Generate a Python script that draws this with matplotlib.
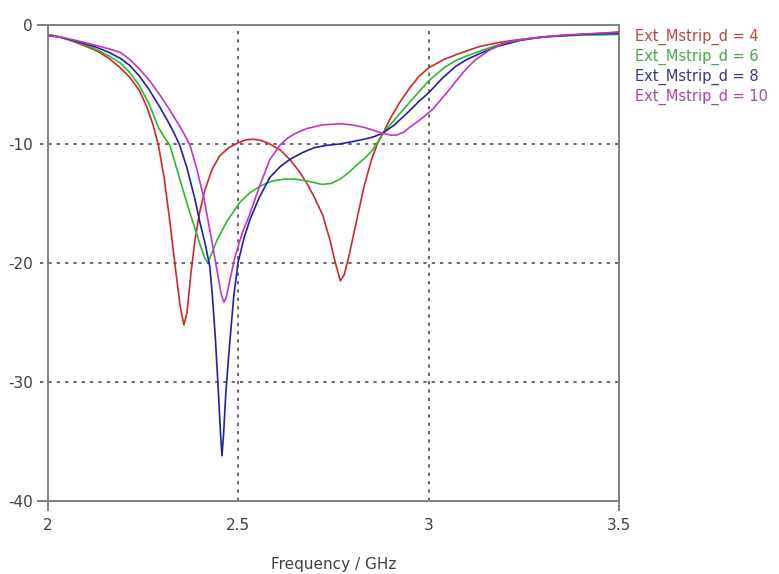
import matplotlib
import matplotlib.pyplot as plt

matplotlib.use('Agg')

# === data (frequency in GHz, S11 in dB) ===
f_d4 = [2.0, 2.03, 2.06, 2.1, 2.13, 2.16, 2.19, 2.215, 2.24, 2.26, 2.275, 2.29,
        2.305, 2.32, 2.335, 2.347, 2.357, 2.365, 2.375, 2.386, 2.398, 2.412, 2.43,
        2.451, 2.475, 2.50, 2.52, 2.54, 2.56, 2.58, 2.61, 2.635, 2.66, 2.68, 2.70,
        2.722, 2.74, 2.755, 2.768, 2.778, 2.79, 2.811, 2.83, 2.85, 2.865, 2.88,
        2.90, 2.924, 2.95, 2.975, 3.0, 3.04, 3.08, 3.134, 3.18, 3.22, 3.3, 3.4, 3.5]
s_d4 = [-0.8, -1.0, -1.3, -1.8, -2.2, -2.8, -3.6, -4.4, -5.5, -6.9, -8.3, -10.1,
        -12.8, -16.5, -20.5, -23.6, -25.2, -24.2, -21.0, -18.1, -15.8, -13.9, -12.2,
        -11.0, -10.3, -9.9, -9.65, -9.6, -9.7, -9.95, -10.5, -11.3, -12.3, -13.3, -14.5,
        -16.0, -18.0, -20.0, -21.5, -21.0, -19.5, -16.4, -13.6, -11.3, -10.0, -9.1,
        -7.8, -6.5, -5.3, -4.3, -3.6, -2.9, -2.4, -1.8, -1.5, -1.3, -1.0, -0.8, -0.6]

f_d6 = [2.0, 2.03, 2.06, 2.1, 2.13, 2.16, 2.19, 2.215, 2.24, 2.265, 2.29, 2.305,
        2.32, 2.345, 2.368, 2.385, 2.40, 2.412, 2.42, 2.43, 2.445, 2.47, 2.504, 2.53,
        2.56, 2.59, 2.62, 2.65, 2.68, 2.72, 2.745, 2.77, 2.79, 2.81, 2.835, 2.853,
        2.88, 2.92, 2.958, 3.0, 3.04, 3.07, 3.1, 3.134, 3.17, 3.2, 3.25, 3.3, 3.4, 3.5]
s_d6 = [-0.8, -1.0, -1.3, -1.7, -2.1, -2.6, -3.2, -4.0, -5.1, -6.6, -8.6, -9.4,
        -10.1, -12.8, -15.3, -17.0, -18.5, -19.6, -20.0, -19.2, -18.0, -16.5, -14.9, -14.1,
        -13.5, -13.1, -12.95, -12.95, -13.1, -13.4, -13.3, -12.9, -12.4, -11.8, -11.1, -10.5,
        -9.1, -7.6, -6.2, -4.7, -3.6, -3.0, -2.6, -2.2, -1.8, -1.5, -1.2, -1.0, -0.85, -0.8]

f_d8 = [2.0, 2.03, 2.06, 2.1, 2.13, 2.16, 2.19, 2.215, 2.24, 2.265, 2.29, 2.31,
        2.33, 2.346, 2.365, 2.385, 2.40, 2.413, 2.425, 2.432, 2.44, 2.447, 2.453,
        2.457, 2.461, 2.467, 2.473, 2.478, 2.488, 2.499, 2.515, 2.53, 2.555, 2.583,
        2.61, 2.635, 2.67, 2.70, 2.735, 2.766, 2.80, 2.83, 2.855, 2.879, 2.91, 2.95,
        2.975, 3.0, 3.035, 3.07, 3.1, 3.134, 3.18, 3.24, 3.3, 3.4, 3.5]
s_d8 = [-0.9, -1.0, -1.25, -1.6, -1.9, -2.3, -2.8, -3.4, -4.3, -5.4, -6.7, -7.8,
        -9.0, -10.1, -12.0, -14.5, -16.7, -18.4, -20.3, -22.8, -26.5, -30.5, -34.2,
        -36.2, -34.5, -31.0, -28.5, -26.5, -22.8, -20.0, -17.9, -16.4, -14.5, -12.8,
        -11.9, -11.3, -10.7, -10.3, -10.1, -10.0, -9.8, -9.6, -9.4, -9.1, -8.4, -7.2,
        -6.4, -5.7, -4.5, -3.5, -2.9, -2.4, -1.8, -1.3, -1.0, -0.8, -0.7]

f_d10 = [2.0, 2.03, 2.06, 2.1, 2.13, 2.16, 2.19, 2.215, 2.24, 2.265, 2.29, 2.315,
         2.34, 2.355, 2.373, 2.39, 2.41, 2.43, 2.445, 2.455, 2.462, 2.469, 2.478,
         2.491, 2.51, 2.53, 2.555, 2.583, 2.609, 2.63, 2.65, 2.68, 2.72, 2.766, 2.80,
         2.83, 2.855, 2.879, 2.90, 2.916, 2.935, 2.95, 2.98, 3.01, 3.05, 3.09, 3.12,
         3.16, 3.2, 3.25, 3.35, 3.5]
s_d10 = [-0.9, -1.0, -1.2, -1.5, -1.75, -2.0, -2.3, -2.9, -3.7, -4.6, -5.7, -6.9,
         -8.2, -9.0, -10.1, -12.0, -14.6, -18.1, -20.8, -22.6, -23.3, -22.8, -21.4,
         -19.5, -17.5, -15.9, -13.6, -11.3, -10.1, -9.5, -9.1, -8.7, -8.4, -8.3, -8.4,
         -8.6, -8.85, -9.1, -9.25, -9.25, -9.0, -8.6, -7.9, -7.1, -5.6, -4.0, -3.0,
         -2.1, -1.5, -1.2, -0.85, -0.6]

labels = ['Ext_Mstrip_d = 4', 'Ext_Mstrip_d = 6', 'Ext_Mstrip_d = 8', 'Ext_Mstrip_d = 10']
x_ticks = [2, 2.5, 3, 3.5]
x_tick_labels = ['2', '2.5', '3', '3.5']
y_ticks = [0, -10, -20, -30, -40]
y_tick_labels = ['0', '-10', '-20', '-30', '-40']

line_colors = ['#d02828', '#30b830', '#2020a8', '#c832c8']
text_colors = ['#b84848', '#48a848', '#383888', '#a848a8']
frame = '#808080'
txt = '#404040'

plt.rcParams['font.family'] = ['DejaVu Sans']

fig = plt.figure(figsize=(7.79, 5.74), dpi=100)
ax = fig.add_axes([48 / 779, 1 - 501 / 574, (619 - 48) / 779, (501 - 25) / 574])

series = [(f_d4, s_d4), (f_d6, s_d6), (f_d8, s_d8), (f_d10, s_d10)]
for (f, s), c in zip(series, line_colors):
    ax.plot(f, s, color=c, lw=1.2, zorder=3)

ax.set_xlim(2, 3.5)
ax.set_ylim(-40, 0)
ax.set_xticks(x_ticks)
ax.set_xticklabels(x_tick_labels)
ax.set_yticks(y_ticks)
ax.set_yticklabels(y_tick_labels)

for sp in ax.spines.values():
    sp.set_color(frame)
    sp.set_linewidth(1.4)

ax.tick_params(axis='both', colors=frame, labelcolor=txt, labelsize=11, width=1.4)
ax.tick_params(axis='y', length=8, pad=3)
ax.tick_params(axis='x', length=7, pad=5)

# only the frame ends get solid ticks; inner ones are the dotted grid
for i, t in enumerate(ax.yaxis.get_major_ticks()):
    if y_ticks[i] not in (0, -40):
        t.tick1line.set_visible(False)
for i, t in enumerate(ax.xaxis.get_major_ticks()):
    if x_ticks[i] not in (2, 3.5):
        t.tick1line.set_visible(False)

# dotted grid, horizontal ones run out to the labels
for y in y_ticks[1:-1]:
    ax.axhline(y, xmin=-8 / 571, xmax=1, color='#505050', lw=1.2,
               ls=(0, (2, 3)), clip_on=False, zorder=1)
for x in x_ticks[1:-1]:
    ax.axvline(x, color='#505050', lw=1.2, ls=(0, (2, 3)), zorder=1)

fig.text(334 / 779, 1 - 565 / 574, 'Frequency / GHz', fontsize=11, color=txt,
         ha='center', va='center')

for i, (lab, c) in enumerate(zip(labels, text_colors)):
    fig.text(635 / 779, 1 - (37 + 20 * i) / 574, lab, color=c, fontsize=10.5,
             va='center', ha='left')

fig.savefig('out.png', dpi=100)
